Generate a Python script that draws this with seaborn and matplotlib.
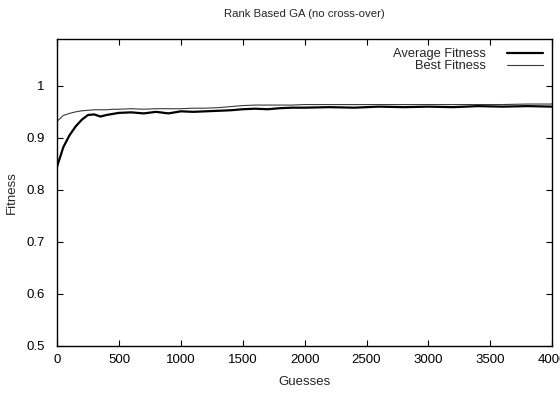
import matplotlib
matplotlib.use("Agg")
import matplotlib.pyplot as plt
import seaborn as sns
import pandas as pd

guesses = [0, 50, 100, 150, 200, 250, 300, 350, 400, 450, 500, 600, 700, 800, 900,
           1000, 1100, 1200, 1300, 1400, 1500, 1600, 1700, 1800, 1900, 2000, 2200,
           2400, 2600, 2800, 3000, 3200, 3400, 3600, 3800, 4000]
average_fitness = [0.845, 0.882, 0.905, 0.922, 0.935, 0.944, 0.945, 0.941, 0.944, 0.946,
                   0.948, 0.949, 0.947, 0.950, 0.947, 0.951, 0.950, 0.951, 0.952, 0.953,
                   0.955, 0.956, 0.955, 0.957, 0.958, 0.958, 0.959, 0.958, 0.960, 0.959,
                   0.960, 0.959, 0.961, 0.960, 0.961, 0.960]
best_fitness = [0.932, 0.943, 0.947, 0.950, 0.952, 0.953, 0.954, 0.954, 0.954, 0.955,
                0.955, 0.956, 0.955, 0.956, 0.956, 0.956, 0.957, 0.957, 0.958, 0.960,
                0.962, 0.963, 0.963, 0.963, 0.963, 0.964, 0.964, 0.964, 0.964, 0.964,
                0.964, 0.964, 0.964, 0.964, 0.965, 0.965]
x_ticks = [0, 500, 1000, 1500, 2000, 2500, 3000, 3500, 4000]
y_ticks = [0.5, 0.6, 0.7, 0.8, 0.9, 1.0]
y_tick_labels = ["0.5", "0.6", "0.7", "0.8", "0.9", "1"]

sns.set_theme(style="white")
plt.rcParams["font.family"] = ["Liberation Sans", "DejaVu Sans"]

df = pd.DataFrame({"Guesses": guesses * 2,
                   "Fitness": average_fitness + best_fitness,
                   "Series": ["Average Fitness"] * len(guesses) + ["Best Fitness"] * len(guesses)})

fig = plt.figure(figsize=(5.6, 3.94), dpi=100)
ax = fig.add_axes([0.102, 0.122, 0.884, 0.779])

sns.lineplot(data=df, x="Guesses", y="Fitness", hue="Series", size="Series",
             palette={"Average Fitness": "#000000", "Best Fitness": "#3a3a3a"},
             sizes={"Average Fitness": 1.6, "Best Fitness": 0.8},
             ax=ax, legend=False)

ax.set_xlim(0, 4000)
ax.set_ylim(0.5, 1.09)
ax.set_xticks(x_ticks)
ax.set_yticks(y_ticks)
ax.set_yticklabels(y_tick_labels)
ax.tick_params(direction="in", length=4, width=0.8, colors="black", labelsize=9.5,
               top=True, right=True, bottom=True, left=True)
ax.tick_params(axis="x", pad=6)
ax.tick_params(axis="y", pad=9)
for s in ax.spines.values():
    s.set_color("black")
    s.set_linewidth(1.0)

ax.set_xlabel("Guesses", fontsize=9.5, labelpad=7)
ax.set_ylabel("Fitness", fontsize=9.5, labelpad=6)
ax.set_title("Rank Based GA (no cross-over)", fontsize=8.2, pad=16)

lines = ax.get_lines()
ax.legend(lines[:2], ["Average Fitness", "Best Fitness"], loc="upper right",
          frameon=False, markerfirst=False, fontsize=9.3, handlelength=2.8,
          labelspacing=0.0, borderaxespad=0.3, handletextpad=1.6)

fig.savefig("out.png", dpi=100)
